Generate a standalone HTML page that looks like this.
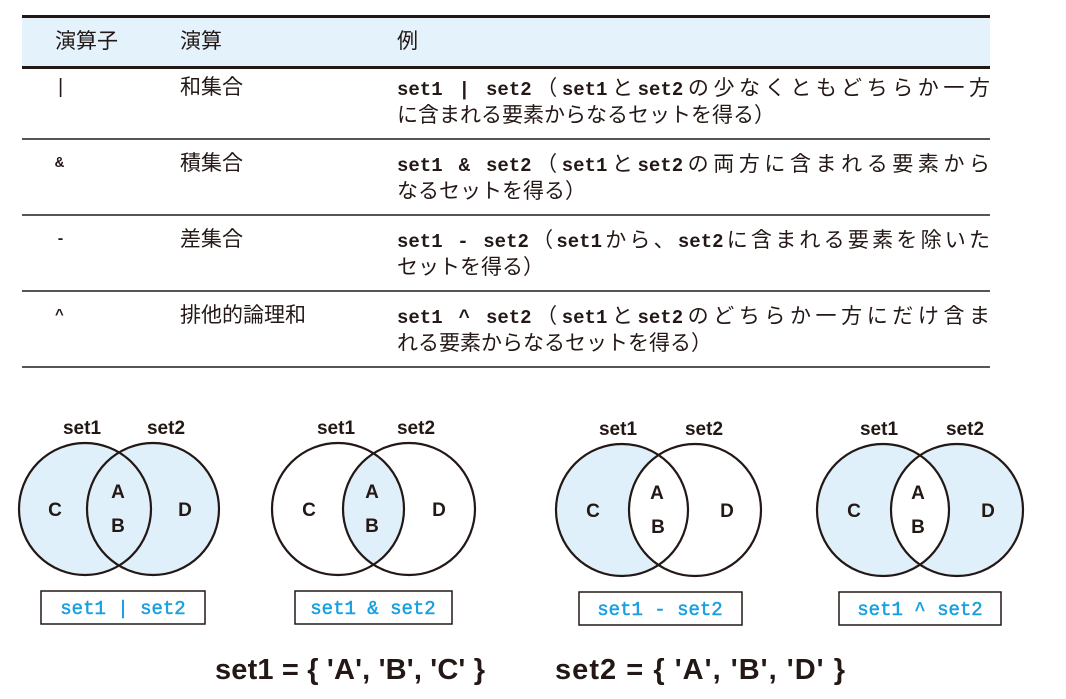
<!DOCTYPE html>
<html><head><meta charset="utf-8"><style>
html,body{margin:0;padding:0;background:#fff;}
body{width:1066px;height:699px;position:relative;overflow:hidden;font-family:"Liberation Sans","Noto Sans CJK JP",sans-serif;color:#231815;}
.hdr{position:absolute;left:22px;top:15px;width:968px;height:48px;background:#e3f2fb;border-top:3px solid #231815;border-bottom:3px solid #231815;}
.line{position:absolute;left:22px;width:968px;height:2px;background:#555;}
.t{position:absolute;font-size:19px;white-space:nowrap;line-height:27px;}
.j{font-family:"Noto Sans CJK JP",sans-serif;font-size:21px;}
.m{font-family:"Liberation Mono",monospace;font-weight:bold;font-size:19px;}
</style></head><body>
<div class="hdr"></div>
<div class="t j" style="left:55px;top:27px;">演算子</div>
<div class="t j" style="left:180px;top:27px;">演算</div>
<div class="t j" style="left:397px;top:27px;">例</div>

<div class="t" style="left:58px;top:74px;font-size:20px;">|</div>
<div class="t j" style="left:180px;top:73px;">和集合</div>
<div class="t" style="left:397px;top:74px;width:593px;text-align-last:justify;"><span class="m">set1 | set2</span><span class="j">（</span><span class="m">set1</span><span class="j">と</span><span class="m">set2</span><span class="j">の少なくともどちらか一方</span></div>
<div class="t j" style="left:397px;top:101px;">に含まれる要素からなるセットを得る）</div>
<div class="line" style="top:138px;"></div>

<div class="t m" style="left:55px;top:150px;font-size:15px;">&amp;</div>
<div class="t j" style="left:180px;top:149px;">積集合</div>
<div class="t" style="left:397px;top:150px;width:593px;text-align-last:justify;"><span class="m">set1 &amp; set2</span><span class="j">（</span><span class="m">set1</span><span class="j">と</span><span class="m">set2</span><span class="j">の両方に含まれる要素から</span></div>
<div class="t j" style="left:397px;top:177px;">なるセットを得る）</div>
<div class="line" style="top:214px;"></div>

<div class="t m" style="left:56px;top:226px;font-size:15px;">-</div>
<div class="t j" style="left:180px;top:225px;">差集合</div>
<div class="t" style="left:397px;top:226px;width:593px;text-align-last:justify;"><span class="m">set1 - set2</span><span class="j">（</span><span class="m">set1</span><span class="j">から、</span><span class="m">set2</span><span class="j">に含まれる要素を除いた</span></div>
<div class="t j" style="left:397px;top:253px;">セットを得る）</div>
<div class="line" style="top:290px;"></div>

<div class="t m" style="left:55px;top:302px;font-size:15px;">^</div>
<div class="t j" style="left:180px;top:301px;">排他的論理和</div>
<div class="t" style="left:397px;top:302px;width:593px;text-align-last:justify;"><span class="m">set1 ^ set2</span><span class="j">（</span><span class="m">set1</span><span class="j">と</span><span class="m">set2</span><span class="j">のどちらか一方にだけ含ま</span></div>
<div class="t j" style="left:397px;top:329px;">れる要素からなるセットを得る）</div>
<div class="line" style="top:366px;"></div>

<svg width="1066" height="699" style="position:absolute;left:0;top:0;" xmlns="http://www.w3.org/2000/svg">
<defs>
<clipPath id="c1"><circle cx="153" cy="509" r="66"/></clipPath>
<clipPath id="c2"><circle cx="409" cy="509" r="66"/></clipPath>
<clipPath id="c3"><circle cx="695" cy="510" r="66"/></clipPath>
<clipPath id="c4"><circle cx="957" cy="510" r="66"/></clipPath>
</defs>
<g fill="#dff0fa">
<circle cx="85" cy="509" r="66"/><circle cx="153" cy="509" r="66"/>
<circle cx="338" cy="509" r="66" clip-path="url(#c2)"/>
<circle cx="622" cy="510" r="66"/>
<circle cx="883" cy="510" r="66"/><circle cx="957" cy="510" r="66"/>
</g>
<g fill="#fff">
<circle cx="622" cy="510" r="66" clip-path="url(#c3)"/>
<circle cx="883" cy="510" r="66" clip-path="url(#c4)"/>
</g>
<g fill="none" stroke="#231815" stroke-width="2.2">
<circle cx="85" cy="509" r="66"/><circle cx="153" cy="509" r="66"/>
<circle cx="338" cy="509" r="66"/><circle cx="409" cy="509" r="66"/>
<circle cx="622" cy="510" r="66"/><circle cx="695" cy="510" r="66"/>
<circle cx="883" cy="510" r="66"/><circle cx="957" cy="510" r="66"/>
</g>
<g fill="none" stroke="#231815" stroke-width="1.5">
<rect x="41" y="591" width="164" height="33"/>
<rect x="295" y="591" width="157" height="33"/>
<rect x="579" y="592" width="163" height="33"/>
<rect x="839" y="592" width="162" height="33"/>
</g>
<g font-family="Liberation Sans, sans-serif" font-weight="bold" font-size="19" fill="#231815" text-anchor="middle">
<text x="82" y="434">set1</text><text x="166" y="434">set2</text>
<text x="336" y="434">set1</text><text x="416" y="434">set2</text>
<text x="618" y="435">set1</text><text x="704" y="435">set2</text>
<text x="879" y="435">set1</text><text x="965" y="435">set2</text>
</g>
<g font-family="Liberation Sans, sans-serif" font-size="19" font-weight="bold" fill="#231815" text-anchor="middle">
<text x="55" y="516">C</text><text x="118" y="498">A</text><text x="118" y="532">B</text><text x="185" y="516">D</text>
<text x="309" y="516">C</text><text x="372" y="498">A</text><text x="372" y="532">B</text><text x="439" y="516">D</text>
<text x="593" y="517">C</text><text x="657" y="499">A</text><text x="658" y="533">B</text><text x="727" y="517">D</text>
<text x="854" y="517">C</text><text x="918" y="499">A</text><text x="918" y="533">B</text><text x="988" y="517">D</text>
</g>
<g font-family="Liberation Mono, monospace" font-size="19" fill="#1aa0e0" text-anchor="middle" stroke="#1aa0e0" stroke-width="0.5">
<text x="123" y="614">set1 | set2</text>
<text x="373" y="614">set1 &amp; set2</text>
<text x="660" y="615">set1 - set2</text>
<text x="920" y="615">set1 ^ set2</text>
</g>
<g font-family="Liberation Sans, sans-serif" font-weight="bold" font-size="29" fill="#231815">
<text x="215" y="679" textLength="270">set1 = { 'A', 'B', 'C' }</text>
<text x="555" y="679" textLength="290">set2 = { 'A', 'B', 'D' }</text>
</g>
</svg>
</body></html>
